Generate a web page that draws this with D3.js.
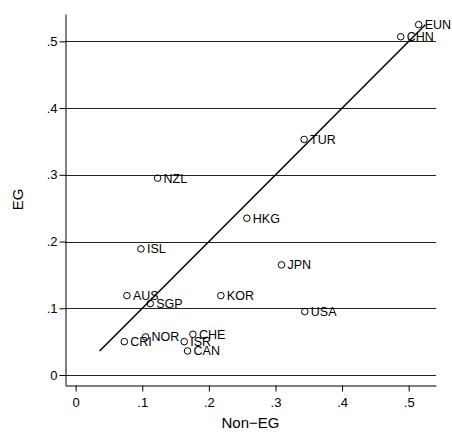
<!DOCTYPE html>
<html lang="en">
<head>
    <meta charset="UTF-8">
    <script src="https://d3js.org/d3.v7.min.js"></script>
    <title>EG vs Non-EG</title>
    <style>
        body { margin: 0; background: #fff; }
        text { font-family: "Liberation Sans", Arial, sans-serif; fill: #000; }
    </style>
</head>
<body>
<script>

    // countries and their two shares
    var countries = ["EUN", "CHN", "TUR", "NZL", "HKG", "ISL", "JPN", "AUS", "SGP", "KOR", "USA", "CRI", "NOR", "CHE", "ISR", "CAN"];
    var nonEG = [0.515, 0.488, 0.343, 0.123, 0.257, 0.098, 0.309, 0.077, 0.112, 0.218, 0.344, 0.073, 0.105, 0.176, 0.163, 0.168];
    var eg    = [0.525, 0.507, 0.353, 0.295, 0.235, 0.189, 0.165, 0.119, 0.107, 0.119, 0.095, 0.050, 0.057, 0.061, 0.050, 0.036];
    var ticks = [0, 0.1, 0.2, 0.3, 0.4, 0.5];

    var width = 452, height = 432;
    var margin = {top: 14, right: 16, bottom: 47, left: 65};

    var svg = d3.select("body")
        .append("svg")
        .attr("width", width)
        .attr("height", height);

    var xScale = d3.scaleLinear()
        .domain([-0.016, 0.541])
        .range([margin.left, width - margin.right]);

    var yScale = d3.scaleLinear()
        .domain([-0.015, 0.541])
        .range([height - margin.bottom, margin.top]);

    var fmt = function(v) { return v === 0 ? "0" : "." + Math.round(v * 10); };

    // horizontal grid lines
    svg.append("g")
        .selectAll("line")
        .data(ticks)
        .enter()
        .append("line")
        .attr("x1", margin.left)
        .attr("x2", width - margin.right)
        .attr("y1", function(d) { return Math.round(yScale(d)) + 0.5; })
        .attr("y2", function(d) { return Math.round(yScale(d)) + 0.5; })
        .attr("stroke", "#222")
        .attr("stroke-width", 1);

    var xAxis = d3.axisBottom(xScale)
        .tickValues(ticks)
        .tickFormat(fmt)
        .tickSize(6)
        .tickSizeOuter(0);

    var yAxis = d3.axisLeft(yScale)
        .tickValues(ticks)
        .tickFormat(fmt)
        .tickSize(6)
        .tickSizeOuter(0);

    var gx = svg.append("g")
        .attr("transform", "translate(0," + (height - margin.bottom + 0.5) + ")")
        .call(xAxis);

    var gy = svg.append("g")
        .attr("transform", "translate(" + (margin.left + 0.5) + ",0)")
        .call(yAxis);

    [gx, gy].forEach(function(g) {
        g.select(".domain").attr("stroke", "#000");
        g.selectAll(".tick line").attr("stroke", "#000");
        g.selectAll(".tick text")
            .style("font-size", "13px")
            .attr("fill", "#000");
    });
    gx.selectAll(".tick text").attr("dy", "0.95em");
    gy.selectAll(".tick text").attr("x", -8);

    // axis titles
    svg.append("text")
        .attr("x", (margin.left + width - margin.right) / 2)
        .attr("y", 428)
        .attr("text-anchor", "middle")
        .style("font-size", "15px")
        .text("Non\u2212EG");

    svg.append("text")
        .attr("transform", "translate(23," + (margin.top + height - margin.bottom) / 2 + ") rotate(-90)")
        .attr("text-anchor", "middle")
        .style("font-size", "15px")
        .text("EG");

    var data = countries.map(function(c, i) {
        return {name: c, x: nonEG[i], y: eg[i]};
    });

    // 45-degree line over the range of the data
    var lo = d3.min(nonEG.concat(eg)), hi = d3.max(nonEG.concat(eg));
    svg.append("line")
        .attr("x1", xScale(lo))
        .attr("y1", yScale(lo))
        .attr("x2", xScale(hi))
        .attr("y2", yScale(hi))
        .attr("stroke", "#000")
        .attr("stroke-width", 1.5);

    var pts = svg.append("g")
        .selectAll("g")
        .data(data)
        .enter()
        .append("g");

    pts.append("circle")
        .attr("cx", function(d) { return xScale(d.x); })
        .attr("cy", function(d) { return yScale(d.y); })
        .attr("r", 3.3)
        .attr("fill", "none")
        .attr("stroke", "#000")
        .attr("stroke-width", 1);

    pts.append("text")
        .attr("x", function(d) { return xScale(d.x) + 6; })
        .attr("y", function(d) { return yScale(d.y); })
        .attr("dy", "0.36em")
        .style("font-size", "12.5px")
        .text(function(d) { return d.name; });

</script>
</body>
</html>
